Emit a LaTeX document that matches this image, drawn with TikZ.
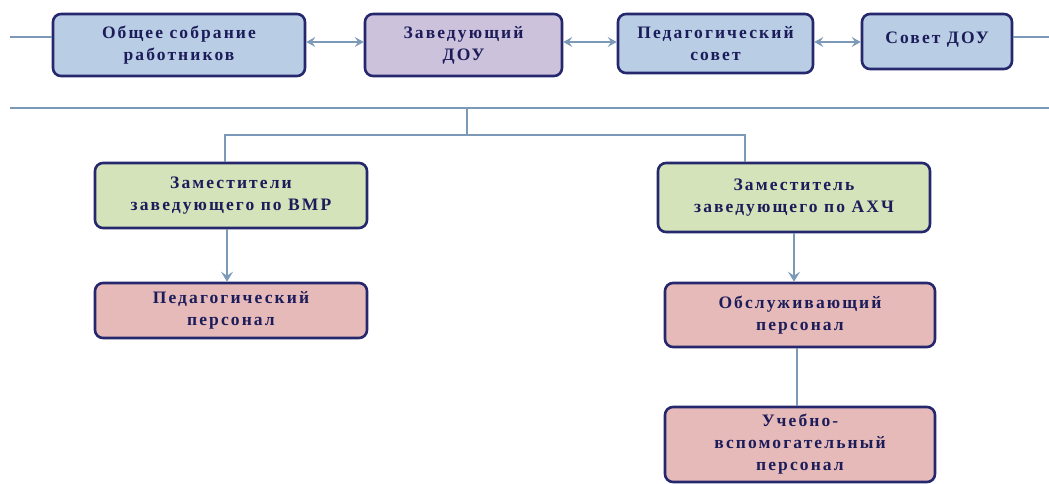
\documentclass[tikz,border=0pt]{standalone}
\usepackage{fontspec}
\setmainfont{Liberation Serif}[LetterSpace=12]
\usetikzlibrary{arrows.meta}
\definecolor{bordc}{HTML}{26286E}
\definecolor{txtc}{HTML}{1C1C5A}
\definecolor{linec}{HTML}{7C99B8}
\definecolor{bluef}{HTML}{B9CDE5}
\definecolor{lilacf}{HTML}{CDC2DC}
\definecolor{greenf}{HTML}{D5E3BA}
\definecolor{pinkf}{HTML}{E6BAB8}
\tikzset{
  box/.style={draw=bordc, line width=2.6pt, rounded corners=8pt, align=center,
    font=\fontsize{17.5}{22}\selectfont\bfseries, text=txtc, inner sep=0pt},
  conn/.style={draw=linec, line width=2.8pt},
  arr/.style={conn, -{Stealth[length=10pt,width=12pt,inset=4pt]}},
  darr/.style={conn, {Stealth[length=9pt,width=10pt,inset=3.5pt]}-{Stealth[length=9pt,width=10pt,inset=3.5pt]}}
}
\begin{document}
\begin{tikzpicture}[x=1pt,y=-1pt]
\useasboundingbox[fill=white] (0,0) rectangle (1049,484);
% top row
\node[box, fill=bluef, minimum width=252pt, minimum height=62pt] (b1) at (179,45) {Общее собрание\\работников};
\node[box, fill=lilacf, minimum width=197pt, minimum height=62pt] (b2) at (463.5,45) {Заведующий\\ДОУ};
\node[box, fill=bluef, minimum width=195pt, minimum height=59pt] (b3) at (715.5,43.5) {Педагогический\\совет};
\node[box, fill=bluef, minimum width=150pt, minimum height=55pt] (b4) at (937,41.5) {\raisebox{7pt}{Совет ДОУ}};
\coordinate (le) at (10,37);
\coordinate (re) at (1049,37);
\draw[conn] (le) -- (le -| b1.west);
\draw[conn] (b4.east |- re) -- (re);
\draw[darr] ([yshift=3pt]b1.east) -- ([yshift=3pt]b2.west);
\draw[darr] ([yshift=3pt]b2.east) -- ([yshift=3pt]b2.east -| b3.west);
\draw[darr] ([yshift=1.5pt]b3.east) -- ([yshift=1.5pt]b3.east -| b4.west);
% horizontal separator
\coordinate (hl) at (10,108);
\coordinate (hr) at (1049,108);
\coordinate (hj) at (467,108);
\coordinate (hb) at (467,135);
\draw[conn] (hl) -- (hr);
% lower
\node[box, fill=greenf, minimum width=272pt, minimum height=65pt] (l1) at (231,195.5) {Заместители\\заведующего по ВМР};
\node[box, fill=pinkf, minimum width=272pt, minimum height=55pt] (l2) at (231,310.5) {Педагогический\\персонал};
\node[box, fill=greenf, minimum width=272pt, minimum height=69pt] (r1) at (794,197.5) {Заместитель\\заведующего по АХЧ};
\node[box, fill=pinkf, minimum width=270pt, minimum height=64pt] (r2) at (800,315) {Обслуживающий\\персонал};
\node[box, fill=pinkf, minimum width=270pt, minimum height=75pt] (r3) at (800,444.5) {Учебно-\\вспомогательный\\персонал};
\coordinate (la) at ([xshift=-6pt]l1.north);
\coordinate (ra) at ([xshift=-49pt]r1.north);
\draw[conn] (hj) -- (hb);
\draw[conn] (la) |- (hb) -| (ra);
\draw[arr] ([xshift=-4pt]l1.south) -- ([xshift=-4pt]l1.south |- l2.north);
\draw[arr] (r1.south) -- (r1.south |- r2.north);
\draw[conn] ([xshift=-3pt]r2.south) -- ([xshift=-3pt]r2.south |- r3.north);
\end{tikzpicture}
\end{document}
